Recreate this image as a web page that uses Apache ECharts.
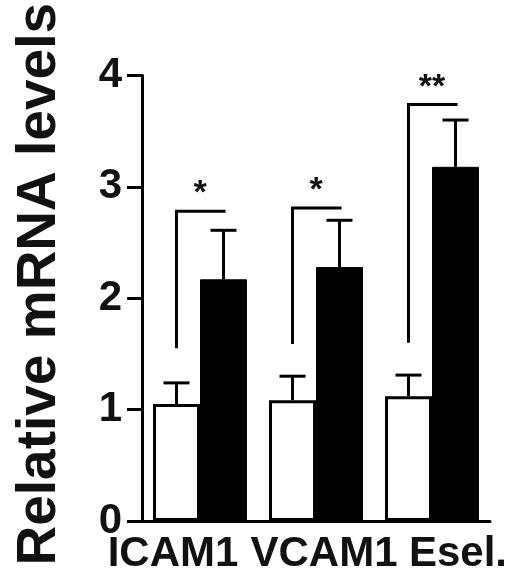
<!DOCTYPE html>
<html>
<head>
<meta charset="utf-8">
<script src="https://cdn.jsdelivr.net/npm/echarts@6/dist/echarts.min.js"></script>
<style>
html,body{margin:0;padding:0;background:#fff;}
#c{width:526px;height:579px;}
</style>
</head>
<body>
<div id="c"></div>
<script>
var categories = ['ICAM1', 'VCAM1', 'Esel.'];
var controlMean = [1.05, 1.085, 1.12];
var controlErr = [1.24, 1.30, 1.31];
var treatedMean = [2.17, 2.28, 3.18];
var treatedErr = [2.61, 2.70, 3.60];
var bracketLow = [1.55, 1.59, 1.60];
var bracketHigh = [2.78, 2.81, 3.74];
var starLevel = [2.94, 2.97, 3.89];
var starText = ['*', '*', '**'];
var yTicks = [0, 1, 2, 3, 4];

var BAR_W = 47;
var FONT = '"Liberation Sans", Arial, sans-serif';
var labelShift = [-27, 8, 26];

function errData(means, errs) {
  return means.map(function (m, i) { return [i, m, errs[i]]; });
}

function errRender(side) {
  return function (params, api) {
    var top = api.coord([api.value(0), api.value(1)]);
    var err = api.coord([api.value(0), api.value(2)]);
    var x = top[0] + side * BAR_W / 2;
    var style = { stroke: '#000', lineWidth: 3 };
    return {
      type: 'group',
      children: [
        { type: 'line', shape: { x1: x, y1: top[1], x2: x, y2: err[1] }, style: style },
        { type: 'line', shape: { x1: x - 13, y1: err[1], x2: x + 13, y2: err[1] }, style: style }
      ]
    };
  };
}

var bracketData = categories.map(function (c, i) {
  return [i, bracketLow[i], bracketHigh[i], starLevel[i]];
});

var option = {
  animation: false,
  backgroundColor: '#fff',
  grid: { left: 142, top: 63, width: 348, height: 458, containLabel: false },
  xAxis: {
    type: 'category',
    data: categories,
    axisLine: { lineStyle: { color: '#000', width: 3 } },
    axisTick: { show: false },
    axisLabel: {
      margin: 12,
      color: '#111',
      fontFamily: FONT,
      fontWeight: 'bold',
      fontSize: 42,
      interval: 0,
      formatter: function (v, i) { return '{s' + i + '|' + v + '}'; },
      rich: {
        s0: { fontFamily: FONT, fontWeight: 'bold', fontSize: 42, color: '#111', padding: [0, -2 * labelShift[0], 0, 0] },
        s1: { fontFamily: FONT, fontWeight: 'bold', fontSize: 42, color: '#111', padding: [0, 0, 0, 2 * labelShift[1]] },
        s2: { fontFamily: FONT, fontWeight: 'bold', fontSize: 42, color: '#111', padding: [0, 0, 0, 2 * labelShift[2]] }
      }
    }
  },
  yAxis: {
    type: 'value',
    min: yTicks[0],
    max: yTicks[yTicks.length - 1],
    interval: 1,
    name: 'Relative mRNA levels',
    nameLocation: 'middle',
    nameGap: 75,
    nameRotate: 90,
    nameTextStyle: { fontFamily: FONT, fontWeight: 'bold', fontSize: 55, color: '#111', padding: [0, 0, 0, 28] },
    axisLine: { show: true, lineStyle: { color: '#000', width: 3 } },
    axisTick: { show: true, inside: false, length: 15, lineStyle: { color: '#000', width: 3 } },
    axisLabel: { margin: 20, color: '#111', fontFamily: FONT, fontWeight: 'bold', fontSize: 42 },
    splitLine: { show: false }
  },
  series: [
    {
      type: 'bar', name: 'control', data: controlMean, barWidth: BAR_W, barGap: '0%',
      itemStyle: { color: '#fff', borderColor: '#000', borderWidth: 3 }
    },
    {
      type: 'bar', name: 'treated', data: treatedMean, barWidth: BAR_W, barGap: '0%',
      itemStyle: { color: '#000', borderColor: '#000', borderWidth: 1 }
    },
    {
      type: 'custom', data: errData(controlMean, controlErr), renderItem: errRender(-1), z: 5,
      encode: { x: 0, y: [1, 2] }
    },
    {
      type: 'custom', data: errData(treatedMean, treatedErr), renderItem: errRender(1), z: 5,
      encode: { x: 0, y: [1, 2] }
    },
    {
      type: 'custom', data: bracketData, z: 6,
      encode: { x: 0, y: [1, 2, 3] },
      renderItem: function (params, api) {
        var i = api.value(0);
        var lo = api.coord([i, api.value(1)]);
        var hi = api.coord([i, api.value(2)]);
        var st = api.coord([i, api.value(3)]);
        var xl = lo[0] - BAR_W / 2;
        var xr = lo[0] + BAR_W / 2 + 2;
        return {
          type: 'group',
          children: [
            { type: 'polyline', shape: { points: [[xl, lo[1]], [xl, hi[1]], [xr, hi[1]]] },
              style: { stroke: '#000', lineWidth: 3, fill: null } },
            { type: 'text', x: st[0], y: st[1],
              style: { text: starText[params.dataIndex], fontFamily: FONT, fontWeight: 'bold', fontSize: 34,
                       fill: '#111', align: 'center', verticalAlign: 'middle' } }
          ]
        };
      }
    }
  ]
};

var chart = echarts.init(document.getElementById('c'), null, { renderer: 'canvas' });
chart.setOption(option);
</script>
</body>
</html>
